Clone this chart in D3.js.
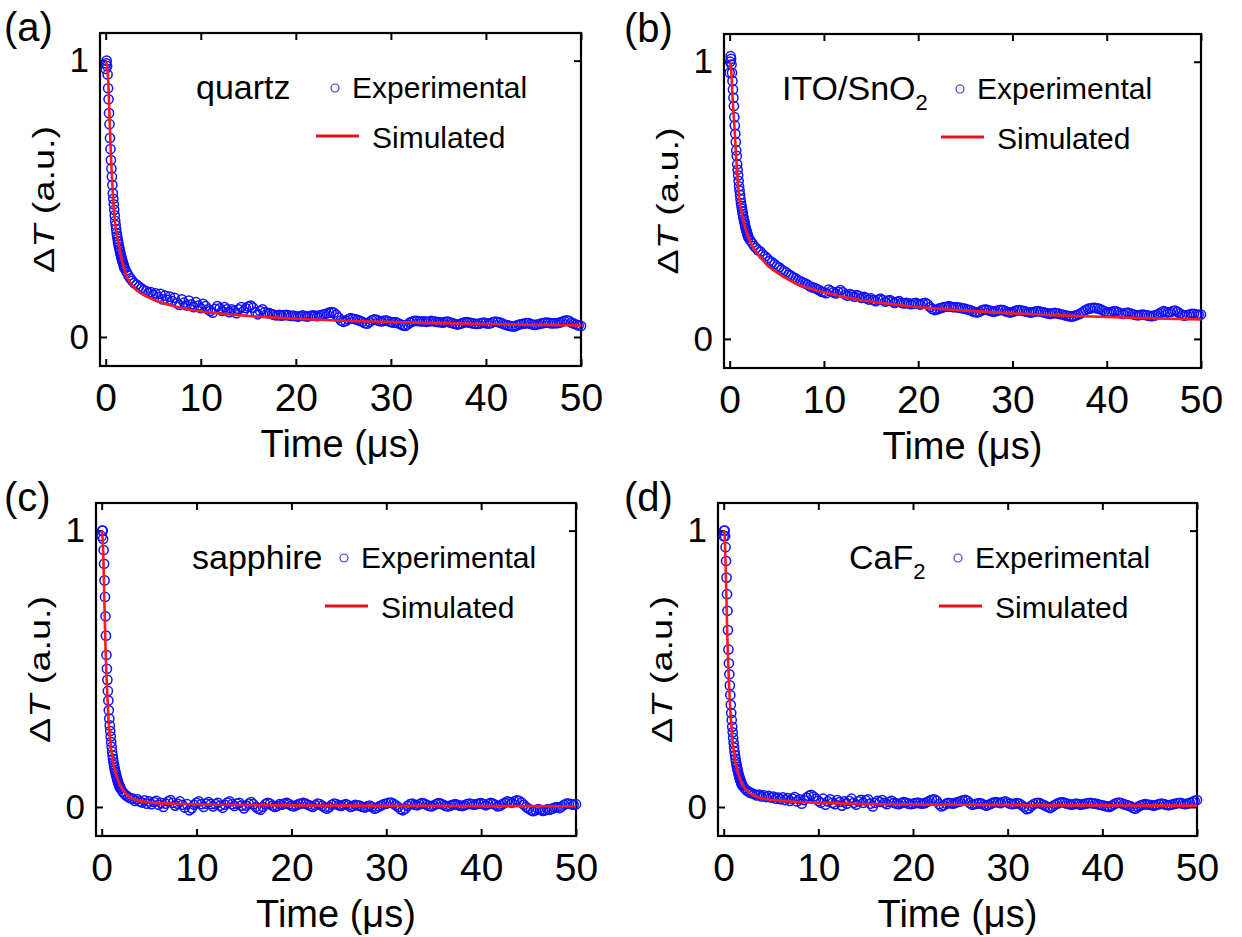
<!DOCTYPE html>
<html>
<head>
<meta charset="utf-8">
<script src="https://cdn.jsdelivr.net/npm/d3@7"></script>
<style>
  body { margin: 0; background: #fff; }
  text { font-family: "Liberation Sans", Arial, sans-serif; fill: #000; }
</style>
</head>
<body>
<div id="chart"></div>
<script>
// time grid of the measured traces (us)
const tExp = [
  0, 0.05, 0.1, 0.15, 0.2, 0.25, 0.3, 0.35, 0.4, 0.45,
  0.5, 0.55, 0.6, 0.65, 0.7, 0.75, 0.8, 0.85, 0.9, 0.95,
  1.0, 1.05, 1.1, 1.15, 1.2, 1.25, 1.3, 1.35, 1.4, 1.45,
  1.5, 1.55, 1.6, 1.65, 1.7, 1.75, 1.8, 1.85, 1.9, 1.95,
  2.0, 2.2, 2.4, 2.6, 2.8, 3.0,
  3.25, 3.5, 3.75, 4.0, 4.25, 4.5, 4.75, 5.0,
  5.25, 5.5, 5.75, 6.0, 6.25, 6.5, 6.75, 7.0,
  7.25, 7.5, 7.75, 8.0, 8.25, 8.5, 8.75, 9.0,
  9.25, 9.5, 9.75, 10.0, 10.25, 10.5, 10.75, 11.0,
  11.25, 11.5, 11.75, 12.0, 12.25, 12.5, 12.75, 13.0,
  13.25, 13.5, 13.75, 14.0, 14.25, 14.5, 14.75, 15.0,
  15.25, 15.5, 15.75, 16.0, 16.25, 16.5, 16.75, 17.0,
  17.25, 17.5, 17.75, 18.0, 18.25, 18.5, 18.75, 19.0,
  19.25, 19.5, 19.75, 20.0, 20.25, 20.5, 20.75, 21.0,
  21.25, 21.5, 21.75, 22.0, 22.25, 22.5, 22.75, 23.0,
  23.25, 23.5, 23.75, 24.0, 24.25, 24.5, 24.75, 25.0,
  25.25, 25.5, 25.75, 26.0, 26.25, 26.5, 26.75, 27.0,
  27.25, 27.5, 27.75, 28.0, 28.25, 28.5, 28.75, 29.0,
  29.25, 29.5, 29.75, 30.0, 30.25, 30.5, 30.75, 31.0,
  31.25, 31.5, 31.75, 32.0, 32.25, 32.5, 32.75, 33.0,
  33.25, 33.5, 33.75, 34.0, 34.25, 34.5, 34.75, 35.0,
  35.25, 35.5, 35.75, 36.0, 36.25, 36.5, 36.75, 37.0,
  37.25, 37.5, 37.75, 38.0, 38.25, 38.5, 38.75, 39.0,
  39.25, 39.5, 39.75, 40.0, 40.25, 40.5, 40.75, 41.0,
  41.25, 41.5, 41.75, 42.0, 42.25, 42.5, 42.75, 43.0,
  43.25, 43.5, 43.75, 44.0, 44.25, 44.5, 44.75, 45.0,
  45.25, 45.5, 45.75, 46.0, 46.25, 46.5, 46.75, 47.0,
  47.25, 47.5, 47.75, 48.0, 48.25, 48.5, 48.75, 49.0,
  49.25, 49.5, 49.75, 50.0
];

const quartzExp = [
  0.97, 0.99, 1.0, 0.98, 0.95, 0.9, 0.86, 0.81, 0.77, 0.72,
  0.68, 0.64, 0.61, 0.58, 0.55, 0.52, 0.5, 0.48, 0.46, 0.44,
  0.42, 0.405, 0.39, 0.375, 0.365, 0.355, 0.345, 0.335, 0.325, 0.318,
  0.31, 0.302, 0.295, 0.288, 0.281, 0.275, 0.27, 0.264, 0.258, 0.253,
  0.248, 0.235, 0.222, 0.212, 0.203, 0.195,
  0.19, 0.182, 0.176, 0.17, 0.166, 0.16, 0.162, 0.152,
  0.158, 0.144, 0.156, 0.136, 0.15, 0.134, 0.146, 0.13,
  0.142, 0.122, 0.116, 0.136, 0.124, 0.114, 0.132, 0.118,
  0.108, 0.126, 0.114, 0.104, 0.12, 0.112, 0.1, 0.094,
  0.088, 0.102, 0.112, 0.104, 0.094, 0.108, 0.1, 0.09,
  0.1, 0.094, 0.086, 0.1, 0.108, 0.094, 0.104, 0.11,
  0.114, 0.106, 0.09, 0.082, 0.094, 0.1, 0.09, 0.086,
  0.086, 0.082, 0.08, 0.078, 0.08, 0.077, 0.079, 0.08,
  0.078, 0.076, 0.077, 0.075, 0.074, 0.076, 0.078, 0.075,
  0.074, 0.076, 0.078, 0.077, 0.075, 0.078, 0.08, 0.082,
  0.085, 0.088, 0.09, 0.088, 0.08, 0.07, 0.06, 0.055,
  0.058, 0.064, 0.068, 0.066, 0.064, 0.062, 0.058, 0.055,
  0.05, 0.048, 0.054, 0.06, 0.064, 0.062, 0.058, 0.056,
  0.058, 0.06, 0.057, 0.054, 0.052, 0.054, 0.05, 0.046,
  0.042, 0.04, 0.045, 0.052, 0.056, 0.058, 0.058, 0.057,
  0.056, 0.057, 0.055, 0.056, 0.058, 0.057, 0.055, 0.054,
  0.053, 0.052, 0.055, 0.056, 0.052, 0.05, 0.047, 0.045,
  0.047, 0.05, 0.053, 0.054, 0.052, 0.05, 0.048, 0.047,
  0.048, 0.05, 0.052, 0.05, 0.048, 0.05, 0.054, 0.056,
  0.054, 0.052, 0.048, 0.045, 0.042, 0.04, 0.038, 0.038,
  0.042, 0.045, 0.047, 0.048, 0.05, 0.05, 0.047, 0.044,
  0.044, 0.046, 0.048, 0.05, 0.052, 0.052, 0.05, 0.049,
  0.05, 0.05, 0.052, 0.055, 0.058, 0.06, 0.058, 0.052,
  0.048, 0.045, 0.042, 0.04
];

const itoExp = [
  0.96, 1.0, 1.02, 1.01, 0.99, 0.96, 0.93, 0.9, 0.87, 0.84,
  0.8, 0.77, 0.74, 0.71, 0.68, 0.66, 0.63, 0.61, 0.59, 0.57,
  0.55, 0.535, 0.52, 0.505, 0.49, 0.48, 0.47, 0.46, 0.45, 0.44,
  0.432, 0.424, 0.416, 0.408, 0.4, 0.394, 0.388, 0.382, 0.376, 0.37,
  0.365, 0.355, 0.345, 0.335, 0.328, 0.32,
  0.315, 0.305, 0.298, 0.29, 0.282, 0.276, 0.27, 0.262,
  0.258, 0.25, 0.245, 0.24, 0.232, 0.228, 0.222, 0.218,
  0.212, 0.208, 0.204, 0.2, 0.196, 0.19, 0.186, 0.184,
  0.18, 0.176, 0.17, 0.168, 0.165, 0.178, 0.172, 0.168,
  0.164, 0.17, 0.176, 0.168, 0.16, 0.156, 0.162, 0.158,
  0.152, 0.158, 0.154, 0.148, 0.152, 0.147, 0.142, 0.146,
  0.14, 0.136, 0.142, 0.145, 0.14, 0.134, 0.138, 0.14,
  0.135, 0.13, 0.134, 0.136, 0.13, 0.128, 0.13, 0.128,
  0.125, 0.128, 0.13, 0.126, 0.124, 0.128, 0.13, 0.125,
  0.115, 0.108, 0.104, 0.106, 0.11, 0.112, 0.115, 0.116,
  0.118, 0.116, 0.114, 0.115, 0.113, 0.112, 0.11, 0.108,
  0.106, 0.104, 0.1, 0.097, 0.095, 0.098, 0.103, 0.106,
  0.106, 0.103, 0.1, 0.098, 0.1, 0.103, 0.105, 0.104,
  0.1, 0.097, 0.095, 0.097, 0.1, 0.103, 0.104, 0.102,
  0.1, 0.098, 0.096, 0.095, 0.097, 0.099, 0.1, 0.098,
  0.096, 0.094, 0.092, 0.09, 0.092, 0.094, 0.092, 0.09,
  0.088, 0.086, 0.084, 0.082, 0.08, 0.082, 0.085, 0.088,
  0.092, 0.098, 0.104, 0.108, 0.11, 0.112, 0.112, 0.11,
  0.108, 0.104, 0.1, 0.096, 0.095, 0.097, 0.1, 0.099,
  0.096, 0.092, 0.09, 0.093, 0.095, 0.092, 0.089, 0.087,
  0.085, 0.086, 0.088, 0.087, 0.085, 0.083, 0.082, 0.084,
  0.086, 0.09, 0.095, 0.1, 0.098, 0.095, 0.097, 0.1,
  0.102, 0.098, 0.092, 0.086, 0.084, 0.086, 0.088, 0.09,
  0.09, 0.088, 0.087, 0.088
];

const sapphireExp = [
  0.98, 1.0, 1.0, 0.97, 0.93, 0.88, 0.82, 0.76, 0.69, 0.62,
  0.55, 0.5, 0.46, 0.42, 0.385, 0.35, 0.32, 0.295, 0.275, 0.255,
  0.235, 0.218, 0.2, 0.186, 0.174, 0.162, 0.152, 0.142, 0.134, 0.126,
  0.118, 0.111, 0.104, 0.098, 0.092, 0.087, 0.082, 0.078, 0.074, 0.07,
  0.066, 0.055, 0.047, 0.041, 0.036, 0.032,
  0.03, 0.022, 0.028, 0.02, 0.016, 0.024, 0.012, 0.02,
  0.01, 0.018, 0.022, 0.008, 0.015, 0.0, 0.012, 0.02,
  0.025, 0.015, 0.005, 0.012, 0.02, 0.008, -0.002, 0.01,
  -0.012, -0.005, 0.008, 0.015, 0.02, 0.01, 0.0, 0.012,
  0.018, 0.01, 0.002, 0.01, 0.015, 0.005, -0.003, 0.008,
  0.016, 0.02, 0.01, 0.004, 0.012, 0.015, 0.005, -0.005,
  0.005, 0.012, 0.018, 0.01, 0.0, -0.006, -0.01, 0.0,
  0.01, 0.015, 0.012, 0.005, 0.0, 0.004, 0.01, 0.008,
  0.012, 0.015, 0.01, 0.005, 0.002, 0.006, 0.01, 0.012,
  0.015, 0.012, 0.008, 0.004, 0.0, 0.006, 0.012, 0.01,
  0.004, -0.002, -0.006, 0.0, 0.008, 0.012, 0.01, 0.006,
  0.004, 0.008, 0.01, 0.006, 0.0, 0.004, 0.008, 0.006,
  0.004, 0.0, -0.002, 0.002, 0.005, 0.0, -0.006, -0.003,
  0.002, 0.006, 0.01, 0.012, 0.015, 0.016, 0.012, 0.006,
  0.0, -0.008, -0.012, -0.006, 0.004, 0.01, 0.012, 0.008,
  0.006, 0.01, 0.014, 0.012, 0.008, 0.004, 0.002, 0.006,
  0.01, 0.014, 0.012, 0.008, 0.004, 0.002, 0.005, 0.008,
  0.01, 0.008, 0.005, 0.004, 0.006, 0.01, 0.012, 0.01,
  0.008, 0.01, 0.012, 0.014, 0.01, 0.006, 0.01, 0.015,
  0.012, 0.008, 0.002, 0.005, 0.01, 0.015, 0.02, 0.018,
  0.015, 0.02, 0.024, 0.022, 0.016, 0.008, 0.0, -0.006,
  -0.012, -0.015, -0.012, -0.008, -0.01, -0.014, -0.012, -0.008,
  -0.01, -0.006, -0.002, 0.0, -0.004, 0.002, 0.008, 0.012,
  0.012, 0.01, 0.008, 0.01
];

const caf2Exp = [
  0.98, 1.0, 1.0, 0.98, 0.94, 0.89, 0.83, 0.77, 0.71, 0.64,
  0.57, 0.52, 0.48, 0.44, 0.405, 0.37, 0.34, 0.315, 0.29, 0.27,
  0.25, 0.232, 0.215, 0.2, 0.187, 0.175, 0.164, 0.154, 0.145, 0.137,
  0.13, 0.122, 0.115, 0.109, 0.103, 0.098, 0.093, 0.088, 0.084, 0.08,
  0.077, 0.068, 0.061, 0.056, 0.052, 0.049,
  0.046, 0.042, 0.045, 0.038, 0.042, 0.036, 0.04, 0.034,
  0.038, 0.03, 0.034, 0.028, 0.035, 0.025, 0.032, 0.022,
  0.03, 0.036, 0.02, 0.028, 0.012, 0.025, 0.034, 0.04,
  0.044, 0.038, 0.03, 0.022, 0.015, 0.03, 0.008, 0.02,
  0.028, 0.015, 0.01, 0.025, 0.018, 0.005, 0.02, 0.012,
  0.022, 0.03, 0.015, 0.008, 0.02, 0.026, 0.015, 0.024,
  0.028, 0.012, 0.002, 0.015, 0.022, 0.018, 0.025, 0.015,
  0.01, 0.018, 0.022, 0.015, 0.012, 0.01, 0.014, 0.018,
  0.016, 0.012, 0.01, 0.012, 0.014, 0.016, 0.013, 0.012,
  0.014, 0.018, 0.022, 0.026, 0.028, 0.022, 0.01, 0.002,
  0.006, 0.012, 0.015, 0.013, 0.012, 0.015, 0.018, 0.02,
  0.024, 0.026, 0.022, 0.014, 0.008, 0.01, 0.012, 0.014,
  0.012, 0.008, 0.005, 0.008, 0.012, 0.016, 0.018, 0.016,
  0.014, 0.018, 0.02, 0.016, 0.012, 0.01, 0.012, 0.014,
  0.012, 0.006, 0.0, -0.008, -0.005, 0.004, 0.01, 0.014,
  0.015, 0.012, 0.008, 0.004, 0.0, -0.004, 0.002, 0.008,
  0.012, 0.016, 0.018, 0.015, 0.012, 0.01, 0.008, 0.01,
  0.012, 0.01, 0.008, 0.01, 0.012, 0.014, 0.015, 0.013,
  0.012, 0.01, 0.008, 0.006, 0.004, 0.002, 0.0, 0.005,
  0.01, 0.014, 0.016, 0.014, 0.01, 0.008, 0.005, 0.002,
  -0.004, -0.006, 0.0, 0.005, 0.008, 0.01, 0.009, 0.008,
  0.006, 0.005, 0.008, 0.01, 0.012, 0.01, 0.008, 0.006,
  0.008, 0.01, 0.012, 0.014, 0.015, 0.012, 0.01, 0.012,
  0.015, 0.018, 0.022, 0.025
];

// simulated curves
const tSim = [0, 0.1, 0.2, 0.3, 0.4, 0.5, 0.6, 0.7, 0.8, 1.0, 1.2, 1.5, 2.0, 2.5, 3, 3.5, 4, 5, 6, 7, 8, 10, 12, 15, 20, 25, 30, 35, 40, 45, 50];
const quartzSim   = [1.0, 0.99, 0.96, 0.9, 0.8, 0.7, 0.62, 0.55, 0.49, 0.41, 0.365, 0.31, 0.24, 0.2, 0.178, 0.163, 0.152, 0.135, 0.123, 0.113, 0.105, 0.093, 0.085, 0.076, 0.066, 0.059, 0.054, 0.05, 0.047, 0.044, 0.042];
const itoSim      = [1.0, 0.99, 0.95, 0.88, 0.82, 0.77, 0.71, 0.65, 0.6, 0.51, 0.47, 0.42, 0.365, 0.33, 0.305, 0.285, 0.265, 0.24, 0.218, 0.2, 0.187, 0.168, 0.152, 0.135, 0.115, 0.102, 0.092, 0.085, 0.079, 0.074, 0.07];
const sapphireSim = [1.0, 0.97, 0.87, 0.72, 0.58, 0.48, 0.4, 0.33, 0.28, 0.21, 0.165, 0.12, 0.075, 0.05, 0.035, 0.027, 0.022, 0.017, 0.014, 0.012, 0.011, 0.009, 0.008, 0.007, 0.006, 0.005, 0.004, 0.004, 0.003, 0.003, 0.002];
const caf2Sim     = [1.0, 0.98, 0.88, 0.74, 0.6, 0.5, 0.42, 0.35, 0.3, 0.22, 0.17, 0.125, 0.08, 0.058, 0.045, 0.037, 0.032, 0.026, 0.022, 0.02, 0.018, 0.015, 0.013, 0.011, 0.009, 0.008, 0.007, 0.006, 0.006, 0.005, 0.005];

const xTicks = [0, 10, 20, 30, 40, 50];
const yTicks = [0, 1];
const panelLetters = ["(a)", "(b)", "(c)", "(d)"];
const sampleNames = ["quartz", "ITO/SnO", "sapphire", "CaF"];
const sampleSubs = ["", "2", "", "2"];
const expSeries = [quartzExp, itoExp, sapphireExp, caf2Exp];
const simSeries = [quartzSim, itoSim, sapphireSim, caf2Sim];

// layout of the four panels
const panels = [
  { left: 100, right: 581, top: 33, bottom: 366, legX: 252, nameX: 96, letterX: 4 },
  { left: 724, right: 1201, top: 34, bottom: 368, legX: 253, nameX: 58, letterX: 624 },
  { left: 96, right: 576, top: 503, bottom: 836, legX: 265, nameX: 96, letterX: 4 },
  { left: 718, right: 1197, top: 503, bottom: 836, legX: 257, nameX: 131, letterX: 624 }
];

const width = 1242;
const height = 937;

const svg = d3.select("#chart")
  .append("svg")
  .attr("width", width)
  .attr("height", height);

panels.forEach((p, i) => {
  const g = svg.append("g");

  const xScale = d3.scaleLinear().domain([-0.6, 50]).range([p.left, p.right]);
  const yScale = d3.scaleLinear().domain([-0.105, 1.1]).range([p.bottom, p.top]);

  // axes, ticks pointing inward
  const bottomAxis = g.append("g")
    .attr("transform", `translate(0, ${p.bottom})`)
    .call(d3.axisBottom(xScale).tickValues(xTicks).tickSizeInner(-7).tickSizeOuter(0).tickPadding(17));
  const topAxis = g.append("g")
    .attr("transform", `translate(0, ${p.top})`)
    .call(d3.axisTop(xScale).tickValues(xTicks).tickSizeInner(-7).tickSizeOuter(0).tickFormat(""));
  const leftAxis = g.append("g")
    .attr("transform", `translate(${p.left}, 0)`)
    .call(d3.axisLeft(yScale).tickValues(yTicks).tickFormat(d3.format("d")).tickSizeInner(-7).tickSizeOuter(0).tickPadding(11));
  const rightAxis = g.append("g")
    .attr("transform", `translate(${p.right}, 0)`)
    .call(d3.axisRight(yScale).tickValues(yTicks).tickSizeInner(-7).tickSizeOuter(0).tickFormat(""));

  [bottomAxis, topAxis, leftAxis, rightAxis].forEach((a) => {
    a.select(".domain").remove();
    a.selectAll(".tick line").attr("stroke", "#000").attr("stroke-width", 2);
  });
  bottomAxis.selectAll("text").attr("font-size", 39);
  leftAxis.selectAll("text").attr("font-size", 35);

  // frame
  g.append("rect")
    .attr("x", p.left)
    .attr("y", p.top)
    .attr("width", p.right - p.left)
    .attr("height", p.bottom - p.top)
    .attr("fill", "none")
    .attr("stroke", "#000")
    .attr("stroke-width", 2.2);

  // experimental points
  const expData = tExp.map((t, k) => ({ t: t, v: expSeries[i][k] }));
  g.append("g")
    .selectAll("circle")
    .data(expData)
    .join("circle")
    .attr("cx", (d) => xScale(d.t))
    .attr("cy", (d) => yScale(d.v))
    .attr("r", 4.6)
    .attr("fill", "none")
    .attr("stroke", "#1010ff")
    .attr("stroke-width", 1.5);

  // simulated curve
  const simData = tSim.map((t, k) => ({ t: t, v: simSeries[i][k] }));
  const line = d3.line()
    .x((d) => xScale(d.t))
    .y((d) => yScale(d.v))
    .curve(d3.curveMonotoneX);
  g.append("path")
    .datum(simData)
    .attr("d", line)
    .attr("fill", "none")
    .attr("stroke", "#ff1a1a")
    .attr("stroke-width", 2.6);

  // axis titles
  g.append("text")
    .attr("x", (p.left + p.right) / 2)
    .attr("y", p.bottom + 91)
    .attr("text-anchor", "middle")
    .attr("font-size", 38)
    .text("Time (\u03bcs)");

  const yLab = g.append("text")
    .attr("transform", `translate(${p.left - 46}, ${(p.top + p.bottom) / 2}) rotate(-90)`)
    .attr("text-anchor", "middle")
    .attr("font-size", 30)
    .attr("textLength", 147)
    .attr("lengthAdjust", "spacingAndGlyphs");
  yLab.append("tspan").text("\u0394");
  yLab.append("tspan").attr("font-style", "italic").text("T");
  yLab.append("tspan").text(" (a.u.)");

  // panel letter
  g.append("text")
    .attr("x", p.letterX)
    .attr("y", p.top + 8)
    .attr("font-size", 40)
    .text(panelLetters[i]);

  // sample name
  const name = g.append("text")
    .attr("x", p.left + p.nameX)
    .attr("y", p.top + 66)
    .attr("font-size", 34)
    .text(sampleNames[i]);
  if (sampleSubs[i]) {
    name.append("tspan")
      .attr("font-size", 22)
      .attr("dy", 10)
      .text(sampleSubs[i]);
  }

  // legend
  g.append("circle")
    .attr("cx", p.left + p.legX - 17)
    .attr("cy", p.top + 55)
    .attr("r", 4)
    .attr("fill", "none")
    .attr("stroke", "#3a3ad0")
    .attr("stroke-width", 1.2);
  g.append("text")
    .attr("x", p.left + p.legX)
    .attr("y", p.top + 65)
    .attr("font-size", 30)
    .text("Experimental");
  g.append("line")
    .attr("x1", p.left + p.legX - 36)
    .attr("x2", p.left + p.legX + 7)
    .attr("y1", p.top + 103)
    .attr("y2", p.top + 103)
    .attr("stroke", "#e8101a")
    .attr("stroke-width", 3);
  g.append("text")
    .attr("x", p.left + p.legX + 20)
    .attr("y", p.top + 115)
    .attr("font-size", 30)
    .text("Simulated");
});
</script>
</body>
</html>
